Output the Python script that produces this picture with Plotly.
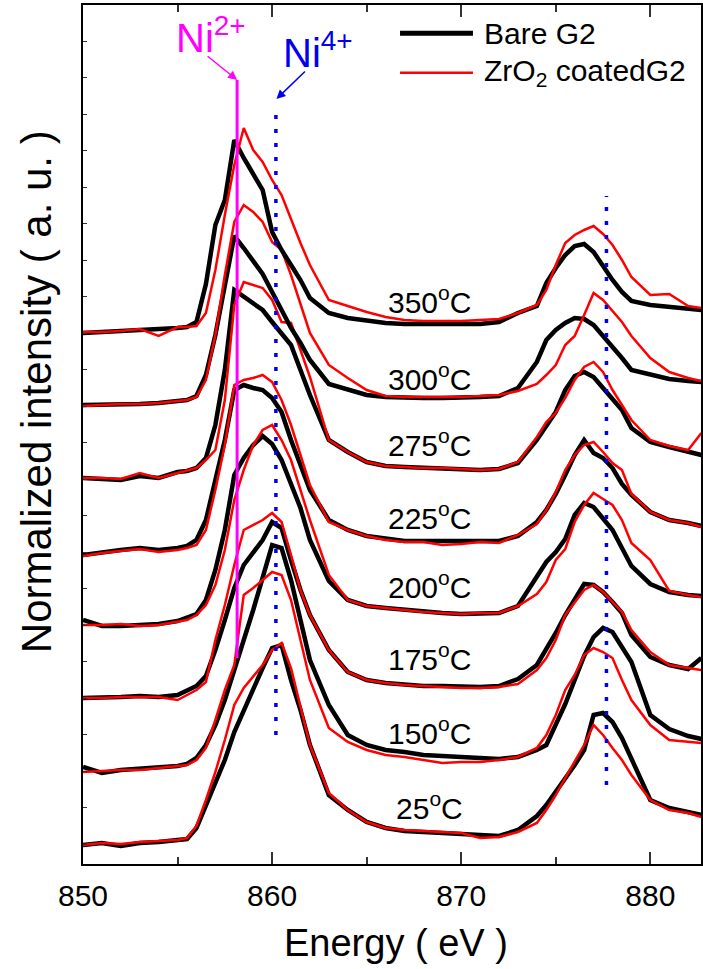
import plotly.graph_objects as go

# Photon energy grid (eV)
energy = [850, 851, 852, 853, 854, 855, 855.5, 856, 856.5, 857, 857.5, 858, 858.5, 859, 859.5,
          860, 860.5, 861, 861.5, 862, 863, 864, 865, 866, 867, 868, 869, 870, 871, 872, 873,
          874, 874.5, 875, 875.5, 876, 876.5, 877, 877.5, 878, 878.5, 879, 880, 881, 882, 882.7]

temps = ["25", "150", "175", "200", "225", "275", "300", "350"]

# Normalized intensity (a.u., vertically offset spectra)
bare_25 = [19, 21, 18, 21, 22, 24, 25, 36, 59, 82, 104, 132, 154, 174, 196, 216, 219, 184, 154, 119, 69, 54, 42, 36, 33, 32, 31, 30, 28, 28, 34, 48, 59, 72, 85, 99, 114, 149, 151, 142, 126, 106, 64, 56, 52, 49]
coat_25 = [19, 21, 20, 22, 23, 24, 26, 38, 64, 92, 124, 159, 176, 187, 199, 214, 221, 196, 159, 119, 71, 54, 42, 36, 34, 33, 32, 31, 26, 27, 32, 41, 54, 69, 86, 102, 119, 139, 129, 116, 104, 89, 64, 54, 51, 47]
bare_150 = [97, 91, 94, 95, 96, 98, 100, 106, 119, 139, 164, 196, 224, 254, 286, 319, 316, 284, 244, 204, 159, 129, 119, 114, 112, 109, 108, 107, 106, 105, 107, 114, 119, 139, 160, 184, 208, 227, 236, 232, 216, 202, 149, 135, 128, 125]
coat_150 = [92, 93, 94, 94, 96, 98, 99, 104, 116, 144, 174, 199, 269, 276, 284, 292, 289, 264, 224, 184, 136, 122, 114, 109, 107, 104, 101, 102, 102, 104, 107, 116, 129, 149, 174, 189, 209, 216, 212, 206, 184, 164, 139, 124, 122, 121]
bare_175 = [166, 166, 167, 168, 167, 169, 174, 178, 188, 214, 244, 276, 299, 312, 324, 342, 336, 304, 274, 249, 214, 192, 184, 181, 179, 178, 178, 177, 177, 178, 185, 199, 214, 231, 249, 264, 280, 279, 272, 262, 251, 229, 207, 199, 195, 206]
coat_175 = [166, 166, 167, 167, 167, 164, 169, 174, 182, 224, 259, 299, 334, 339, 344, 351, 342, 309, 274, 249, 214, 192, 184, 181, 179, 178, 177, 176, 176, 177, 180, 194, 206, 224, 249, 262, 274, 279, 272, 262, 252, 234, 212, 199, 196, 194]
bare_200 = [244, 238, 238, 239, 240, 243, 246, 250, 264, 294, 334, 389, 406, 419, 428, 420, 404, 379, 356, 324, 283, 264, 258, 256, 254, 252, 251, 250, 251, 251, 258, 288, 302, 312, 325, 349, 361, 357, 345, 334, 316, 298, 280, 272, 269, 268]
coat_200 = [239, 239, 240, 238, 239, 242, 244, 249, 259, 279, 314, 364, 394, 419, 434, 439, 424, 404, 374, 344, 289, 264, 258, 256, 254, 252, 251, 250, 251, 251, 258, 270, 282, 304, 315, 342, 359, 371, 365, 359, 344, 321, 304, 273, 269, 267]
bare_225 = [309, 312, 314, 316, 314, 316, 318, 324, 344, 384, 424, 474, 479, 476, 474, 466, 452, 424, 399, 374, 344, 334, 328, 325, 323, 323, 323, 323, 322, 323, 328, 342, 354, 370, 389, 409, 424, 411, 406, 396, 380, 369, 352, 344, 341, 338]
coat_225 = [308, 311, 313, 315, 312, 314, 316, 319, 334, 374, 419, 479, 484, 486, 489, 482, 464, 439, 409, 379, 342, 334, 328, 324, 322, 322, 319, 320, 322, 321, 329, 340, 354, 372, 394, 409, 419, 422, 412, 401, 394, 370, 352, 344, 341, 337]
bare_275 = [386, 385, 384, 388, 386, 392, 393, 396, 406, 439, 494, 574, 567, 561, 554, 542, 531, 519, 494, 469, 424, 412, 402, 398, 397, 396, 396, 395, 394, 395, 401, 424, 439, 452, 474, 488, 492, 487, 476, 465, 454, 436, 422, 417, 412, 409]
coat_275 = [386, 386, 385, 391, 386, 391, 393, 396, 404, 414, 464, 559, 582, 579, 576, 564, 542, 541, 514, 487, 424, 412, 402, 398, 397, 396, 396, 395, 394, 395, 402, 427, 442, 451, 466, 484, 497, 502, 492, 474, 459, 444, 424, 418, 414, 431]
bare_300 = [459, 459, 460, 460, 461, 463, 464, 468, 489, 529, 579, 628, 616, 602, 590, 572, 554, 536, 521, 504, 480, 474, 469, 467, 466, 466, 466, 466, 467, 468, 476, 502, 524, 534, 541, 546, 545, 539, 528, 518, 506, 494, 489, 485, 483, 482]
coat_300 = [458, 459, 460, 460, 461, 463, 464, 467, 484, 529, 589, 642, 659, 652, 642, 622, 614, 589, 559, 531, 499, 486, 474, 468, 467, 467, 467, 467, 468, 469, 473, 480, 489, 499, 519, 528, 549, 571, 564, 553, 542, 528, 506, 492, 486, 483]
bare_350 = [531, 532, 532, 533, 534, 536, 537, 542, 580, 639, 664, 724, 706, 689, 674, 632, 614, 599, 584, 566, 551, 546, 543, 541, 540, 540, 540, 540, 540, 542, 551, 558, 581, 596, 609, 618, 620, 612, 598, 584, 572, 563, 559, 557, 556, 554]
coat_350 = [532, 532, 533, 535, 528, 537, 537, 538, 551, 594, 649, 699, 736, 714, 702, 684, 669, 644, 621, 599, 564, 558, 552, 547, 544, 543, 543, 543, 544, 545, 551, 559, 574, 599, 621, 629, 634, 638, 630, 619, 604, 587, 569, 570, 558, 556]

bare_series = [bare_25, bare_150, bare_175, bare_200, bare_225, bare_275, bare_300, bare_350]
coat_series = [coat_25, coat_150, coat_175, coat_200, coat_225, coat_275, coat_300, coat_350]

# label positions for each temperature (energy, intensity)
label_energy = 868.3
label_level = [58, 133, 207, 279, 348, 421, 487, 564]

# reference lines
ni2_energy = 858.15
ni4_energy = 860.2
l2_energy = 877.68

X0, X1 = 850, 882.68
Y0, Y1 = 0, 859

FONT = "Liberation Sans, Arial, sans-serif"

fig = go.Figure()

for b, c in zip(bare_series, coat_series):
    fig.add_trace(go.Scatter(x=energy, y=b, mode="lines", line=dict(color="black", width=4.5),
                             showlegend=False, hoverinfo="skip"))
    fig.add_trace(go.Scatter(x=energy, y=c, mode="lines", line=dict(color="#ff0000", width=2.5),
                             showlegend=False, hoverinfo="skip"))

# Ni2+ and Ni4+ marker lines
fig.add_trace(go.Scatter(x=[ni2_energy, ni2_energy], y=[206, 784], mode="lines",
                         line=dict(color="#ff00ff", width=3), showlegend=False, hoverinfo="skip"))
fig.add_trace(go.Scatter(x=[ni4_energy, ni4_energy], y=[129, 751], mode="lines",
                         line=dict(color="#0000ee", width=3.5, dash="4px,10px"), showlegend=False, hoverinfo="skip"))
fig.add_trace(go.Scatter(x=[l2_energy, l2_energy], y=[79, 668], mode="lines",
                         line=dict(color="#0000ee", width=3.5, dash="4px,10px"), showlegend=False, hoverinfo="skip"))

annotations = []
for t, lv in zip(temps, label_level):
    annotations.append(dict(x=label_energy, y=lv, xref="x", yref="y", showarrow=False,
                            text=f"{t}<sup>o</sup>C", font=dict(family=FONT, size=30, color="black"),
                            xanchor="center", yanchor="middle"))

# Ni labels and arrows
annotations.append(dict(x=856.75, y=829, xref="x", yref="y", showarrow=False, text="Ni<sup>2+</sup>",
                        font=dict(family=FONT, size=40, color="#ff00ff"), xanchor="center", yanchor="middle"))
annotations.append(dict(x=862.45, y=814, xref="x", yref="y", showarrow=False, text="Ni<sup>4+</sup>",
                        font=dict(family=FONT, size=40, color="#0000ee"), xanchor="center", yanchor="middle"))
annotations.append(dict(x=ni2_energy, y=784, xref="x", yref="y", ax=-31, ay=-25, showarrow=True, text="",
                        arrowhead=2, arrowsize=1.2, arrowwidth=1.5, arrowcolor="#ff00ff"))
annotations.append(dict(x=ni4_energy + 0.03, y=765, xref="x", yref="y", ax=30, ay=-29, showarrow=True, text="",
                        arrowhead=2, arrowsize=1.2, arrowwidth=1.5, arrowcolor="#0000ee"))

# Legend (manual)
shapes = [
    dict(type="line", xref="paper", yref="paper", x0=0.513, x1=0.631, y0=0.967, y1=0.967,
         line=dict(color="black", width=5)),
    dict(type="line", xref="paper", yref="paper", x0=0.513, x1=0.631, y0=0.921, y1=0.921,
         line=dict(color="#ff0000", width=2.5)),
]
annotations.append(dict(x=0.645, y=0.967, xref="paper", yref="paper", showarrow=False, text="Bare G2",
                        font=dict(family=FONT, size=30, color="black"), xanchor="left", yanchor="middle"))
annotations.append(dict(x=0.645, y=0.921, xref="paper", yref="paper", showarrow=False,
                        text="ZrO<sub>2</sub> coatedG2",
                        font=dict(family=FONT, size=30, color="black"), xanchor="left", yanchor="middle"))

# Axis titles
annotations.append(dict(x=(397 - 83) / 620, y=(864 - 943) / 859, xref="paper", yref="paper", showarrow=False,
                        text="Energy ( eV )", font=dict(family=FONT, size=38, color="black"),
                        xanchor="center", yanchor="middle"))
annotations.append(dict(x=(37 - 83) / 620, y=(864 - 392) / 859, xref="paper", yref="paper", showarrow=False,
                        text="Normalized intensity ( a. u. )", textangle=-90,
                        font=dict(family=FONT, size=42, color="black"),
                        xanchor="center", yanchor="middle"))

fig.update_layout(
    width=703, height=969,
    margin=dict(l=83, r=0, t=5, b=105),
    paper_bgcolor="white", plot_bgcolor="white",
    font=dict(family=FONT, color="black"),
    shapes=shapes, annotations=annotations,
    showlegend=False,
)
fig.update_xaxes(range=[X0, X1], tickmode="linear", tick0=850, dtick=10,
                 ticks="inside", ticklen=12, tickwidth=1.5, tickcolor="#333",
                 minor=dict(ticks="inside", ticklen=7, tickwidth=1.5, dtick=5, tickcolor="#333"),
                 showline=True, linecolor="black", linewidth=2, mirror="ticks",
                 showgrid=False, zeroline=False,
                 tickfont=dict(family=FONT, size=30, color="black"), ticklabelstandoff=4)
fig.update_yaxes(range=[Y0, Y1], tickmode="linear", tick0=20, dtick=36.5,
                 ticks="inside", ticklen=4, tickwidth=1, tickcolor="#333",
                 showticklabels=False, showline=True, linecolor="black", linewidth=2, mirror=True,
                 showgrid=False, zeroline=False)

fig.write_html("out.html", config={"displayModeBar": False},
               post_script="document.body.style.margin='0';document.body.style.overflow='hidden';")
